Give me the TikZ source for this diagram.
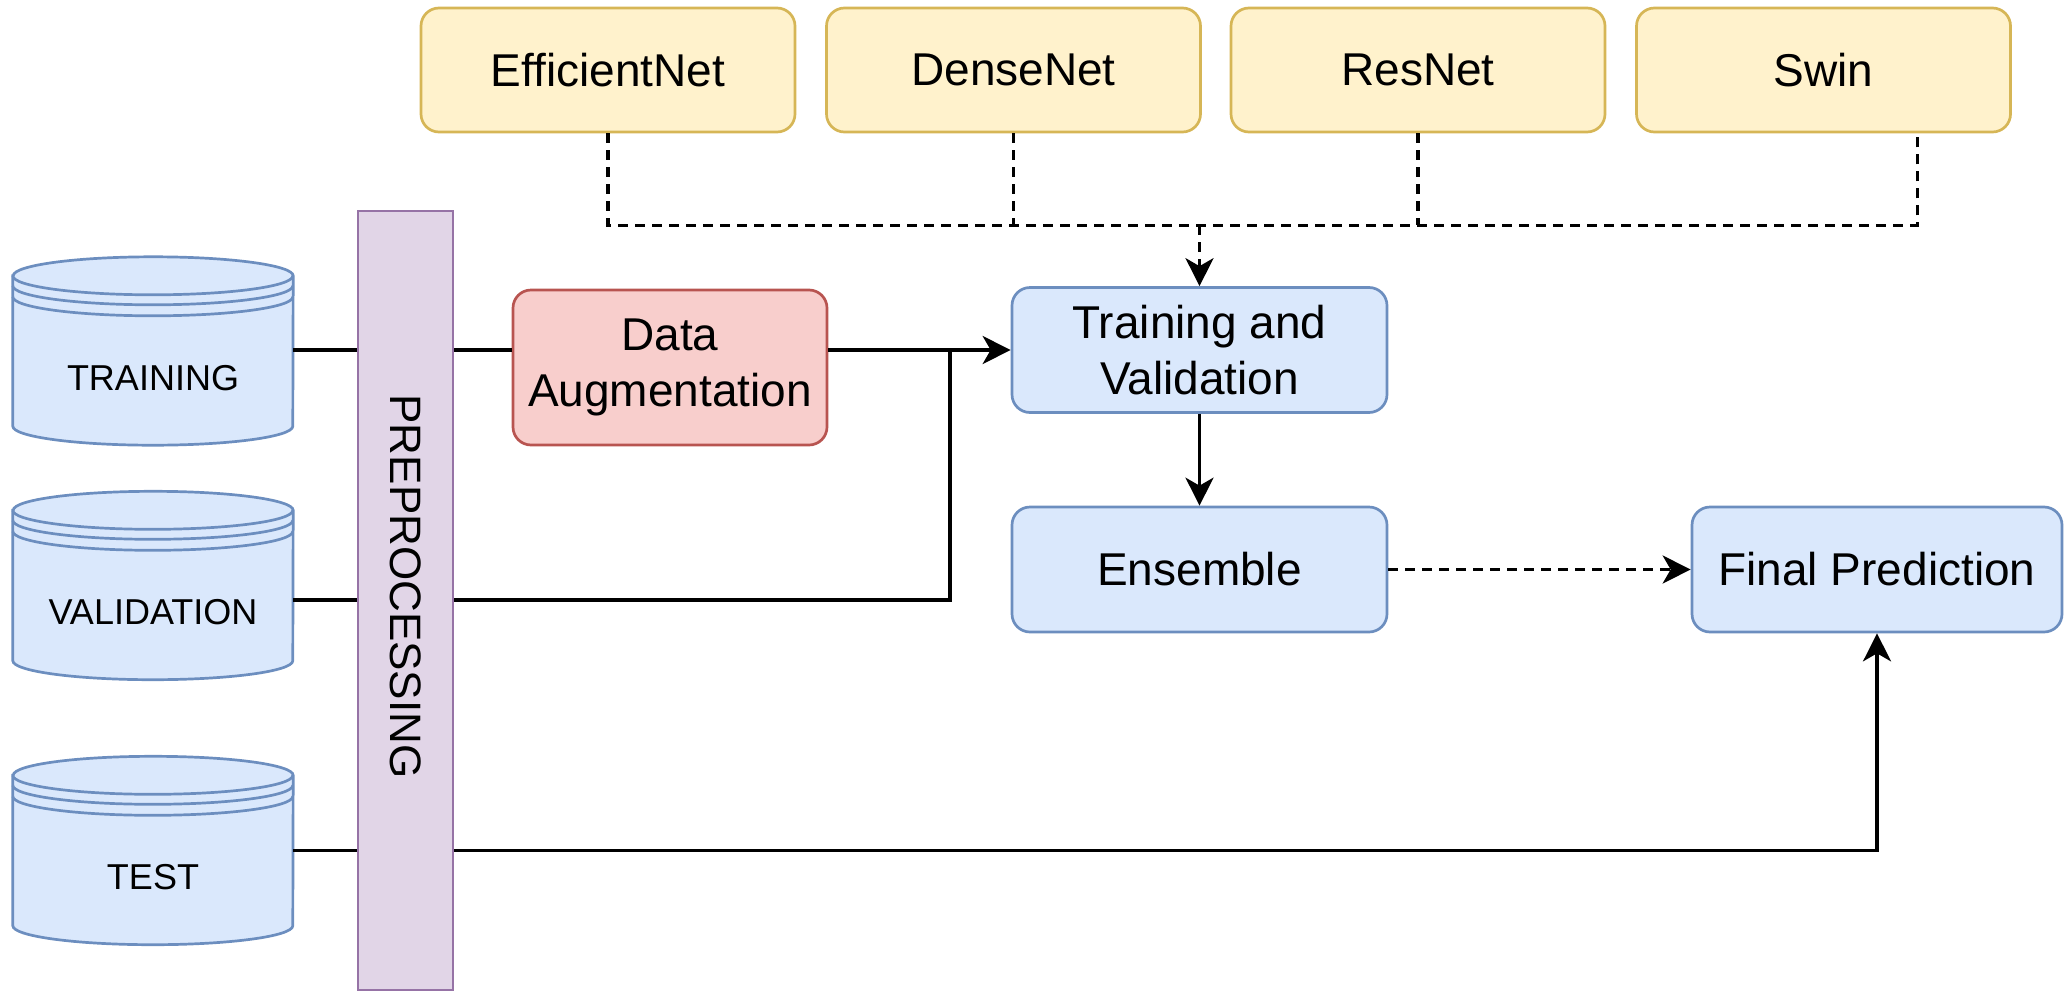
\documentclass[tikz,border=0pt]{standalone}
\usepackage{fontspec}
\setmainfont{Liberation Sans}
\usepackage{graphicx}
\usetikzlibrary{arrows.meta,backgrounds,calc}
\definecolor{bfill}{HTML}{DAE8FC}
\definecolor{bdraw}{HTML}{6C8EBF}
\definecolor{yfill}{HTML}{FFF2CC}
\definecolor{ydraw}{HTML}{D6B656}
\definecolor{rfill}{HTML}{F8CECC}
\definecolor{rdraw}{HTML}{B85450}
\definecolor{pfill}{HTML}{E1D5E7}
\definecolor{pdraw}{HTML}{9673A6}
\newcommand\dbdraw[1]{%
  \path[fill=bfill, draw=bdraw, line width=2.7pt]
    ([yshift=-19pt]#1.north west) -- ([yshift=19pt]#1.south west)
    arc[start angle=180,end angle=360,x radius=140pt,y radius=19pt]
    -- ([yshift=-19pt]#1.north east)
    arc[start angle=0,end angle=180,x radius=140pt,y radius=19pt] -- cycle;
  \draw[draw=bdraw, line width=2.7pt] ([yshift=-19pt]#1.north west)
    arc[start angle=180,end angle=360,x radius=140pt,y radius=19pt];
  \draw[draw=bdraw, line width=2.7pt] ([yshift=-29pt]#1.north west)
    arc[start angle=180,end angle=360,x radius=140pt,y radius=19pt];
  \draw[draw=bdraw, line width=2.7pt] ([yshift=-40pt]#1.north west)
    arc[start angle=180,end angle=360,x radius=140pt,y radius=19pt];
}
\begin{document}
\begin{tikzpicture}[x=1pt,y=1pt,
  box/.style={rectangle, rounded corners=18pt, line width=2.7pt, inner sep=0pt,
    align=center, font=\fontsize{46}{56}\selectfont},
  bluebox/.style={box, fill=bfill, draw=bdraw, minimum width=375pt, minimum height=125pt},
  modelbox/.style={box, fill=yfill, draw=ydraw, minimum width=374pt, minimum height=124pt},
  augbox/.style={box, fill=rfill, draw=rdraw, minimum width=314pt, minimum height=155pt},
  prepbox/.style={rectangle, fill=pfill, draw=pdraw, line width=2.7pt, inner sep=0pt,
    minimum width=95pt, minimum height=779pt, font=\fontsize{44}{52}\selectfont},
  dbnode/.style={rectangle, inner sep=0pt, minimum width=280pt, minimum height=188pt,
    text height=78pt, text depth=0pt, font=\fontsize{36}{43}\selectfont},
  link/.style={line width=3.1pt, draw=black},
  arr/.style={link, -{Stealth[length=28pt,width=28pt,inset=8pt]}},
  dashlink/.style={link, dash pattern=on 10pt off 7pt},
]
\useasboundingbox (0,0) rectangle (2064,-991);

% model boxes
\node[modelbox] (eff)   at (608,-70)    {EfficientNet};
\node[modelbox] (dense) at (1013.5,-70) {DenseNet};
\node[modelbox] (res)   at (1418,-70)   {ResNet};
\node[modelbox] (swin)  at (1823.5,-70) {Swin};

% datasets
\node[dbnode] (train) at (153,-351)   {TRAINING};
\node[dbnode] (val)   at (153,-585.5) {VALIDATION};
\node[dbnode] (test)  at (153,-850.5) {TEST};
\begin{scope}[on background layer]
  \dbdraw{train}
  \dbdraw{val}
  \dbdraw{test}
\end{scope}

% preprocessing
\node[prepbox] (prepro) at (405.5,-600.5) {\rotatebox{-90}{PREPROCESSING\hspace{28pt}}};

% process boxes
\node[augbox]  (aug) at (670,-367.5)    {Data\\Augmentation};
\node[bluebox] (tv)  at (1199.5,-350)   {Training and\\Validation};
\node[bluebox] (ens) at (1199.5,-569.5) {Ensemble};
\node[bluebox, minimum width=370pt] (fin) at (1877,-569.5) {Final Prediction};

\coordinate (bus) at ($(tv.north)+(0,61)$);
\coordinate (vj)  at (950,-600);

% model connectors
\draw[dashlink] (eff.south) |- ([xshift=94pt]swin.south |- bus) -- ([xshift=94pt]swin.south);
\draw[dashlink] (dense.south) -- (dense.south |- bus);
\draw[dashlink] (res.south) -- (res.south |- bus);
\draw[dashlink, arr] (bus) -- (tv.north);

% training path
\draw[link] (train.east |- tv.west) -- (prepro.west |- tv.west);
\draw[link] (prepro.east |- tv.west) -- (aug.west |- tv.west);
\draw[arr] (aug.east |- tv.west) -- (tv.west);

% validation path
\draw[link] (val.east |- vj) -- (prepro.west |- vj);
\draw[link] (prepro.east |- vj) -- (vj) -- (vj |- tv.west);

% test path
\draw[link] (test.east) -- (prepro.west |- test.east);
\draw[arr] (prepro.east |- test.east) -| (fin.south);

% main flow
\draw[arr] (tv.south) -- (ens.north);
\draw[dashlink, arr] (ens.east) -- (fin.west);
\end{tikzpicture}
\end{document}
